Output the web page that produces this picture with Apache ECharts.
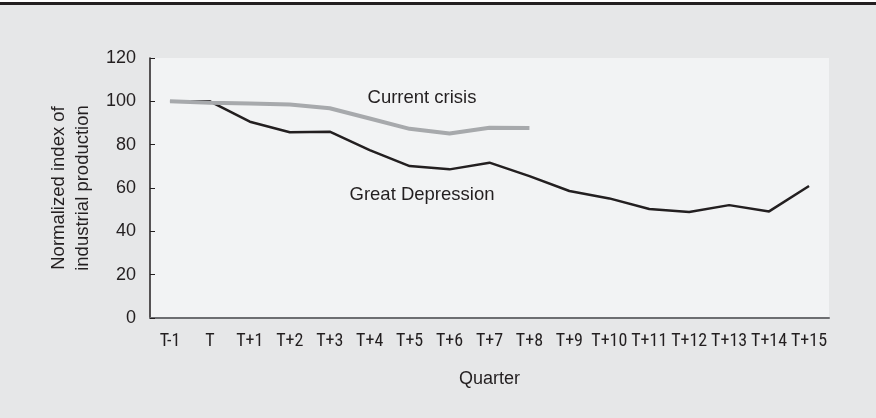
<!DOCTYPE html>
<html>
<head>
<meta charset="utf-8">
<script src="https://cdn.jsdelivr.net/npm/echarts@6/dist/echarts.min.js"></script>
<style>
  html, body { margin: 0; padding: 0; background: #e6e7e8; }
  #chart { width: 876px; height: 418px; }
</style>
</head>
<body>
<div id="chart"></div>
<script>
// Quarters relative to the start of the downturn (T)
const quarters = ['T-1', 'T', 'T+1', 'T+2', 'T+3', 'T+4', 'T+5', 'T+6', 'T+7',
                  'T+8', 'T+9', 'T+10', 'T+11', 'T+12', 'T+13', 'T+14', 'T+15'];

// Normalized index of industrial production (T-1 = 100)
const greatDepression = [100, 100, 90.6, 85.7, 86, 77.5, 70.1, 68.6, 71.7,
                         65.5, 58.6, 55.2, 50.3, 48.9, 52.1, 49.2, 60.9];
const currentCrisis = [100, 99.3, 99, 98.5, 96.8, 92.1, 87.3, 85.2, 87.8, 87.7];

const yTicks = { min: 0, max: 120, step: 20 };

const sans = 'Arial, "Liberation Sans", Helvetica, sans-serif';
const narrow = '"Arial Narrow", "Liberation Sans Narrow", "Roboto Condensed", ' + sans;
const ink = '#231f20';

const chart = echarts.init(document.getElementById('chart'));
chart.setOption({
  backgroundColor: '#e6e7e8',
  animation: false,
  grid: {
    left: 150, right: 47, top: 58, bottom: 100,
    show: true, backgroundColor: '#f2f3f4', borderWidth: 0
  },
  xAxis: {
    type: 'category',
    data: quarters,
    boundaryGap: true,
    name: 'Quarter',
    nameLocation: 'middle',
    nameGap: 52,
    nameTextStyle: { fontFamily: sans, fontSize: 18, color: ink },
    axisLine: { lineStyle: { color: '#6d6e71', width: 2 } },
    axisTick: { inside: true, length: 5, lineStyle: { color: ink, width: 1 } },
    axisLabel: { fontFamily: narrow, fontSize: 18, color: ink, margin: 14, interval: 0 },
    splitLine: { show: false }
  },
  yAxis: {
    type: 'value',
    min: yTicks.min, max: yTicks.max, interval: yTicks.step,
    name: 'Normalized index of\nindustrial production',
    nameLocation: 'middle',
    nameRotate: 90,
    nameGap: 54,
    nameTextStyle: { fontFamily: sans, fontSize: 18.5, color: ink, lineHeight: 24 },
    axisLine: { show: true, lineStyle: { color: ink, width: 1.5 } },
    axisTick: { show: true, inside: true, length: 5, lineStyle: { color: ink, width: 1 } },
    axisLabel: { fontFamily: sans, fontSize: 18, color: ink, margin: 14 },
    splitLine: { show: false }
  },
  graphic: [
    { type: 'rect', left: 0, top: 0, shape: { width: 876, height: 2 }, style: { fill: '#ffffff' } },
    { type: 'rect', left: 0, top: 2, shape: { width: 876, height: 3 }, style: { fill: ink } },
    {
      type: 'text', x: 422, y: 98, z: 10,
      style: { text: 'Current crisis', fontFamily: sans, fontSize: 18.5, fill: ink,
               align: 'center', verticalAlign: 'middle' }
    },
    {
      type: 'text', x: 422, y: 195, z: 10,
      style: { text: 'Great Depression', fontFamily: sans, fontSize: 18.5, fill: ink,
               align: 'center', verticalAlign: 'middle' }
    }
  ],
  series: [
    {
      name: 'Great Depression',
      type: 'line',
      data: greatDepression,
      symbol: 'none',
      z: 2,
      lineStyle: { color: ink, width: 2.5 }
    },
    {
      name: 'Current crisis',
      type: 'line',
      data: currentCrisis,
      symbol: 'none',
      z: 3,
      lineStyle: { color: '#a7a9ac', width: 4 }
    }
  ]
});
</script>
</body>
</html>
